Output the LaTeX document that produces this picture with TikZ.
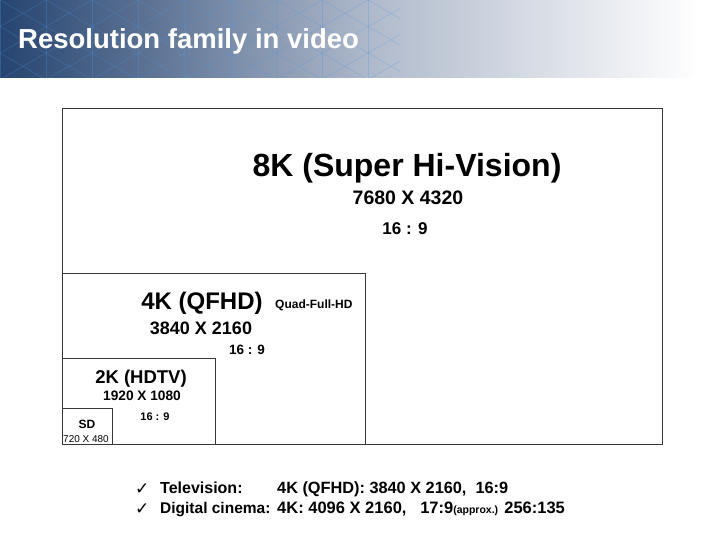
\documentclass[tikz,border=0pt]{standalone}
\usepackage{fontspec}
\setmainfont{Liberation Sans}
\newfontfamily\checkfont{DejaVu Sans}

\definecolor{hdrblue}{RGB}{38,68,112}
\definecolor{hdrgray}{RGB}{178,188,205}
\definecolor{starblue}{RGB}{80,150,220}
\definecolor{framegray}{RGB}{55,55,55}

\begin{document}
\begin{tikzpicture}[x=1pt, y=-1pt,
	res/.style={inner sep=0pt, font=\bfseries\fontsize{#1}{#1}\selectfont},
	box/.style={draw=framegray, line width=0.8pt},
	star/.style={starblue, opacity=0.3, line width=0.6pt}]
	
	\useasboundingbox (0,0) rectangle (720,540);
	
	% header band
	\shade[left color=hdrblue, right color=hdrgray] (0,0) rectangle (380,78);
	\shade[left color=hdrgray, right color=white] (380,0) rectangle (700,78);
	\fill[white] (700,0) rectangle (720,78);
	\begin{scope}
		\clip (0,0) rectangle (400,78);
		\foreach \i in {-6,...,12}
		{
			\draw[star] (\i*46,0) -- ++(0,78);
			\draw[star] (\i*46,0) -- ++(30:220);
			\draw[star] (\i*46,0) -- ++(150:220);
			\draw[star] (\i*46+23,0) -- ++(30:-220);
		}
	\end{scope}
	\node[res=27.5, text=white, anchor=base west] (title) at (18,49) {Resolution family in video};
	
	% nested frames
	\draw[box] (62,108) rectangle (662,444);
	\draw[box] (62,273) rectangle (365,444);
	\draw[box] (62,358) rectangle (215,444);
	\draw[box] (62,408) rectangle (112,444);
	
	% 8K
	\node[res=32, anchor=base] (k8name) at (407,177) {8K (Super Hi-Vision)};
	\node[res=19.5, anchor=base] (k8size) at (408,205) {7680 X 4320};
	\node[res=17, anchor=base] (k8ratio) at (405,234) {16 : 9};
	
	% 4K
	\node[res=24, anchor=base] (k4name) at (202,309) {4K (QFHD)};
	\node[res=12, anchor=base west] (k4quad) at (275,308) {Quad-Full-HD};
	\node[res=18, anchor=base] (k4size) at (201,334) {3840 X 2160};
	\node[res=13.5, anchor=base] (k4ratio) at (247,354) {16 : 9};
	
	% 2K
	\node[res=18.5, anchor=base] (k2name) at (141,383) {2K (HDTV)};
	\node[res=13.7, anchor=base] (k2size) at (142,400) {1920 X 1080};
	\node[res=11, anchor=base] (k2ratio) at (155,420) {16 : 9};
	
	% SD
	\node[res=12, anchor=base] (sdname) at (87,428) {SD};
	\node[inner sep=0pt, font=\fontsize{10}{10}\selectfont, anchor=base] (sdsize) at (86,442) {720 X 480};
	
	% notes
	\node[inner sep=0pt, font=\checkfont\fontsize{17}{17}\selectfont, anchor=base west] (chktv) at (135,494) {✓};
	\node[res=16, anchor=base west] (tv) at (160,493) {Television:};
	\node[res=16.3, anchor=base west] (tvval) at (277,493) {4K (QFHD): 3840 X 2160,\ \ 16:9};
	\node[inner sep=0pt, font=\checkfont\fontsize{17}{17}\selectfont, anchor=base west] (chkdc) at (135,514) {✓};
	\node[res=15.5, anchor=base west] (dc) at (160,513) {Digital cinema:};
	\node[res=16.5, anchor=base west] (dcval) at (277,513) {4K: 4096 X 2160,\ \ \ 17:9{\fontsize{10.5}{10.5}\selectfont(approx.)} 256:135};
	
\end{tikzpicture}
\end{document}
